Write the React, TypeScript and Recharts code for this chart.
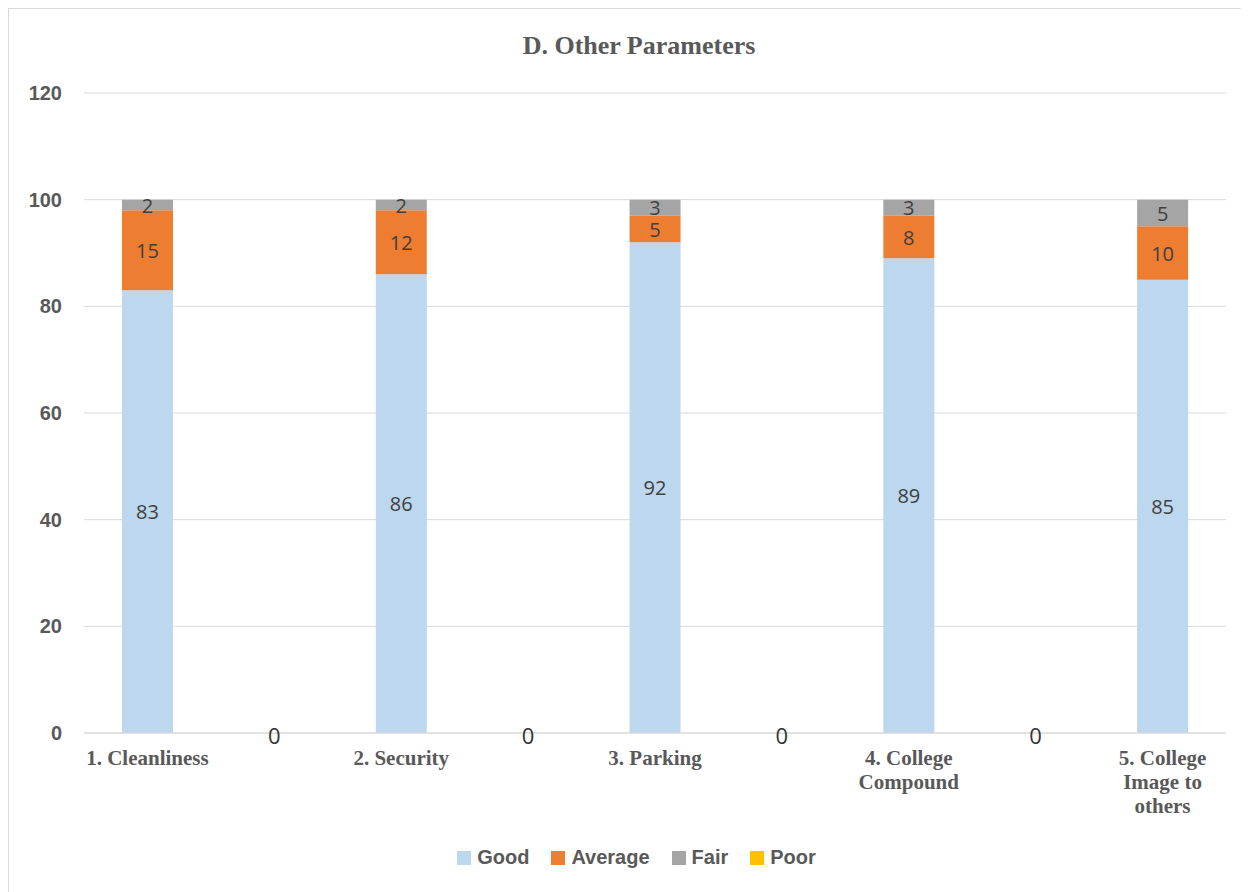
import React from "react";
import {
  Bar,
  BarChart,
  CartesianGrid,
  LabelList,
  Legend,
  XAxis,
  YAxis,
} from "recharts";

// spacer columns between the real categories carry only the "0" of Poor
const categories = [
  "1. Cleanliness",
  "",
  "2. Security",
  "",
  "3. Parking",
  "",
  "4. College Compound",
  "",
  "5. College Image to others",
];
const good = [83, null, 86, null, 92, null, 89, null, 85];
const average = [15, null, 12, null, 5, null, 8, null, 10];
const fair = [2, null, 2, null, 3, null, 3, null, 5];
const poor = [null, 0, null, 0, null, 0, null, 0, null];
const yTicks = [0, 20, 40, 60, 80, 100, 120];

const series = [
  { key: "good", name: "Good", color: "#BDD7EE" },
  { key: "average", name: "Average", color: "#ED7D31" },
  { key: "fair", name: "Fair", color: "#A5A5A5" },
  { key: "poor", name: "Poor", color: "#FFC000" },
];

const data = categories.map((name, i) => ({
  name,
  good: good[i],
  average: average[i],
  fair: fair[i],
  poor: poor[i],
}));

const AXIS_GREY = "#595959";

function wrapLabel(label: string, maxChars = 14): string[] {
  const words = label.split(" ");
  const lines: string[] = [];
  let cur = "";
  for (const w of words) {
    const next = cur ? `${cur} ${w}` : w;
    if (next.length > maxChars && cur) {
      lines.push(cur);
      cur = w;
    } else {
      cur = next;
    }
  }
  if (cur) lines.push(cur);
  return lines;
}

// zero-height Poor bars are not drawn, so their "0" label sits with the tick
function CategoryTick(props: any) {
  const { x, y, payload } = props;
  const text: string = payload?.value ?? "";
  const idx: number = payload?.index ?? 0;
  if (!text) {
    const v = poor[idx];
    if (v === null || v === undefined) return null;
    return (
      <text
        x={x}
        y={y + 2}
        textAnchor="middle"
        dominantBaseline="central"
        fill="#333333"
        fontSize={22}
        fontFamily="'Open Sans', sans-serif"
      >
        {v}
      </text>
    );
  }
  const lines = wrapLabel(text);
  return (
    <text
      x={x}
      y={y}
      textAnchor="middle"
      fill={AXIS_GREY}
      fontFamily="'Liberation Serif', 'Times New Roman', serif"
      fontWeight="bold"
      fontSize={21}
    >
      {lines.map((line, i) => (
        <tspan key={i} x={x} dy={i === 0 ? 32 : 24}>
          {line}
        </tspan>
      ))}
    </text>
  );
}

const segmentLabel = (props: any) => {
  const { x, y, width, height, value } = props;
  if (value === null || value === undefined) return null;
  return (
    <text
      x={x + width / 2}
      y={y + height / 2}
      textAnchor="middle"
      dominantBaseline="central"
      fill="#404040"
      fontSize={20}
      fontFamily="'Open Sans', sans-serif"
    >
      {value}
    </text>
  );
};

function LegendContent() {
  return (
    <div
      style={{
        display: "flex",
        justifyContent: "center",
        alignItems: "center",
        gap: 22,
        paddingLeft: 16,
        fontFamily: "'Liberation Sans', Arial, sans-serif",
        fontWeight: "bold",
        fontSize: 20,
        color: AXIS_GREY,
      }}
    >
      {series.map((s) => (
        <div key={s.key} style={{ display: "flex", alignItems: "center" }}>
          <span
            style={{
              display: "inline-block",
              width: 14,
              height: 14,
              background: s.color,
              marginRight: 6,
            }}
          />
          <span>{s.name}</span>
        </div>
      ))}
    </div>
  );
}

export default function App() {
  return (
    <div
      style={{
        position: "relative",
        width: 1240,
        height: 883,
        borderLeft: "1px solid #D9D9D9",
        borderTop: "1px solid #D9D9D9",
        background: "#fff",
      }}
    >
      <div
        style={{
          position: "absolute",
          top: 22,
          left: 14,
          width: 1232,
          textAlign: "center",
          fontFamily: "'Liberation Serif', 'Times New Roman', serif",
          fontWeight: "bold",
          fontSize: 26,
          color: AXIS_GREY,
        }}
      >
        D. Other Parameters
      </div>
      <BarChart
        width={1239}
        height={883}
        data={data}
        margin={{ top: 84, right: 22, left: 15, bottom: 59 }}
        barSize={51}
      >
        <CartesianGrid vertical={false} stroke="#D9D9D9" strokeWidth={1} />
        <XAxis
          dataKey="name"
          interval={0}
          axisLine={{ stroke: "#D9D9D9" }}
          tickLine={false}
          tickSize={0}
          tickMargin={0}
          height={100}
          tick={<CategoryTick />}
        />
        <YAxis
          domain={[0, 120]}
          ticks={yTicks}
          width={60}
          axisLine={false}
          tickLine={false}
          tickSize={0}
          tickMargin={22}
          tick={{
            fill: AXIS_GREY,
            fontSize: 20,
            fontWeight: "bold",
            fontFamily: "'Liberation Sans', Arial, sans-serif",
          }}
        />
        <Legend
          verticalAlign="middle"
          align="center"
          content={<LegendContent />}
          wrapperStyle={{ top: 837, left: 0, width: 1239 }}
        />
        <Bar
          dataKey="good"
          name="Good"
          stackId="a"
          fill="#BDD7EE"
          isAnimationActive={false}
        >
          <LabelList dataKey="good" content={segmentLabel} />
        </Bar>
        <Bar
          dataKey="average"
          name="Average"
          stackId="a"
          fill="#ED7D31"
          isAnimationActive={false}
        >
          <LabelList dataKey="average" content={segmentLabel} />
        </Bar>
        <Bar
          dataKey="fair"
          name="Fair"
          stackId="a"
          fill="#A5A5A5"
          isAnimationActive={false}
        >
          <LabelList dataKey="fair" content={segmentLabel} />
        </Bar>
        <Bar
          dataKey="poor"
          name="Poor"
          stackId="a"
          fill="#FFC000"
          isAnimationActive={false}
        />
      </BarChart>
    </div>
  );
}
